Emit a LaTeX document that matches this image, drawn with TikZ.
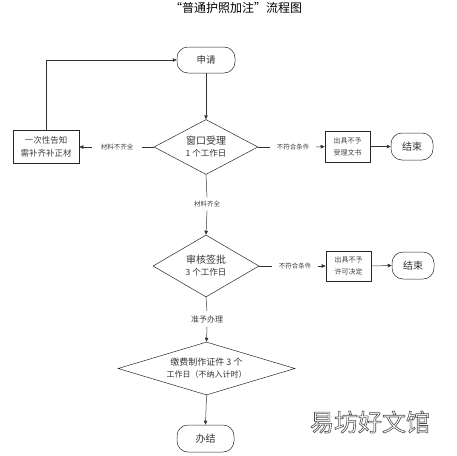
\documentclass[tikz,border=0pt]{standalone}
\usepackage{fontspec}
\setmainfont{Noto Sans CJK SC}
\usetikzlibrary{shapes.geometric,arrows.meta}
\begin{document}
\begin{tikzpicture}[x=1pt,y=-1pt,
 line/.style={draw=black!80, line width=0.5pt},
 arr/.style={line, -{Triangle[length=4pt,width=3.5pt]}},
 term/.style={draw=black!85, line width=0.5pt, rectangle, rounded corners=11pt, minimum width=58pt, minimum height=26pt, inner sep=0pt, font=\fontsize{9.5}{11}\selectfont, text=black!80},
 dia/.style={draw=black!85, line width=0.5pt, diamond, inner sep=0pt, align=center, text=black!80},
 box/.style={draw=black!85, line width=0.6pt, rectangle, inner sep=0pt, align=center, text=black!75},
 lab/.style={inner ysep=0pt, font=\fontsize{6.5}{8}\selectfont, text=black!75}
]
\useasboundingbox (0,0) rectangle (457,455);
\node[font=\fontsize{12}{14}\selectfont] (title) at (236,8) {“普通护照加注”流程图};

\node[term] (apply) at (206,60) {申请};
\node[dia, minimum width=104pt, minimum height=55pt, aspect=2] (d1) at (206,147)
  {{\fontsize{10}{12}\selectfont 窗口受理}\\{\fontsize{8.5}{11}\selectfont 1 个工作日}};
\node[box, minimum width=66pt, minimum height=33pt, font=\fontsize{8.5}{13}\selectfont] (lb) at (46,147) {一次性告知\\需补齐补正材};
\node[lab, inner xsep=9pt] (l1) at (117,147) {材料不齐全};
\node[lab, inner xsep=6.5pt] (l2) at (293,147) {不符合条件};
\node[box, minimum width=45pt, minimum height=31pt, font=\fontsize{7}{12}\selectfont] (rb1) at (347.5,146.5) {出具不予\\受理文书};
\node[term, minimum width=42pt, minimum height=27pt, font=\fontsize{10}{12}\selectfont] (end1) at (412,146.5) {结束};

\node[lab, inner ysep=3.5pt] (l3) at (207,204) {材料齐全};
\node[dia, minimum width=106pt, minimum height=62pt, aspect=2] (d2) at (206,266)
  {{\fontsize{10}{12}\selectfont 审核签批}\\{\fontsize{8.5}{11}\selectfont 3 个工作日}};
\node[lab, inner xsep=6.5pt] (l4) at (295,266) {不符合条件};
\node[box, minimum width=45pt, minimum height=30pt, font=\fontsize{7}{12}\selectfont] (rb2) at (348.5,266) {出具不予\\许可决定};
\node[term, minimum width=42pt, minimum height=27pt, font=\fontsize{10}{12}\selectfont] (end2) at (413,265.5) {结束};

\node[lab, inner ysep=4pt, font=\fontsize{8}{10}\selectfont] (l5) at (207,319) {准予办理};
\node[dia, minimum width=177pt, minimum height=53pt, aspect=3.3] (d3) at (206.5,368.5)
  {{\fontsize{9}{12}\selectfont 缴费制作证件 3 个}\\{\fontsize{8}{10}\selectfont 工作日（不纳入计时）}};
\node[term, minimum width=57pt, minimum height=27pt, font=\fontsize{10}{12}\selectfont] (done) at (205.5,438.5) {办结};

\draw[arr] (apply.south) -- (d1.north);
\draw[line] (d1.west) -- (l1.east);
\draw[arr] (l1.west) -- (lb.east);
\draw[arr] (lb.north) |- (apply.west);
\draw[line] (d1.east) -- (l2.west);
\draw[arr] (l2.east) -- (rb1.west);
\draw[arr] (rb1.east) -- (end1.west);
\draw[line] (d1.south) -- (l3.north);
\draw[arr] (l3.south) -- (d2.north);
\draw[line] (d2.east) -- (l4.west);
\draw[arr] (l4.east) -- (rb2.west);
\draw[arr] (rb2.east) -- (end2.west);
\draw[line] (d2.south) -- (l5.north);
\draw[arr] (l5.south) -- (d3.north);
\draw[arr] (d3.south) -- (done.north);

\node[font=\fontsize{24}{26}\selectfont] (wm) at (370,422)
  {{\color{white}\special{pdf:literal 0.3 G 0.6 w 2 Tr}易坊好文馆\special{pdf:literal 0 Tr}}};
\end{tikzpicture}
\end{document}
